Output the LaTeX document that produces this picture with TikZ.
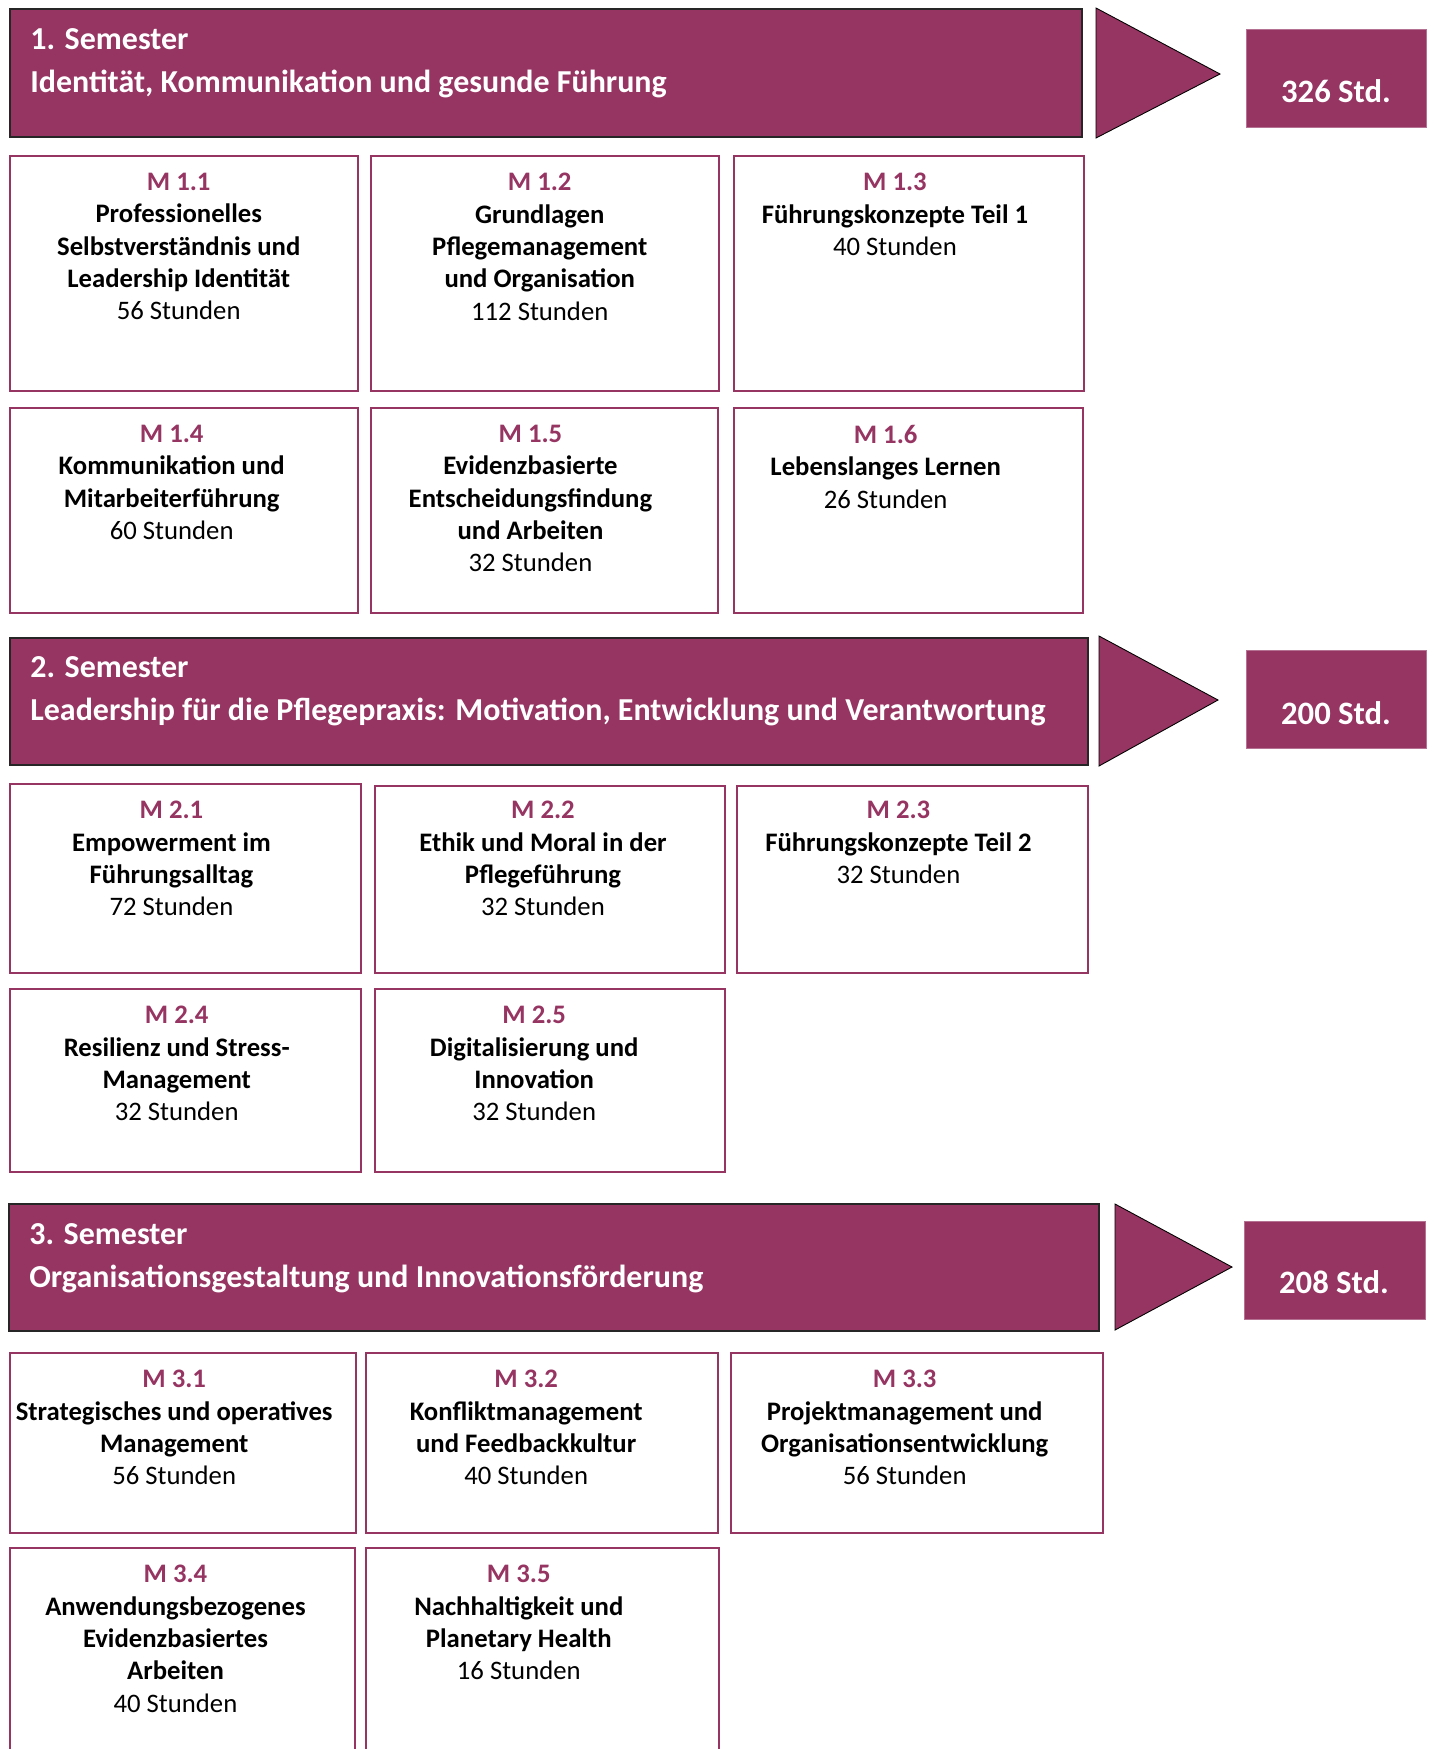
\documentclass[tikz,border=0pt]{standalone}
\usepackage{fontspec}
\setmainfont{Carlito}
\usetikzlibrary{positioning, fit}
\definecolor{semlila}{HTML}{963462}

\begin{document}
\begin{tikzpicture}[x=0.02cm, y=-0.02cm,
    banner/.style={fill=semlila, draw=black!85, line width=0.6pt, inner sep=0pt},
    pfeil/.style={fill=semlila, draw=black, line width=0.5pt},
    summe/.style={fill=semlila, draw=semlila!70, line width=0.5pt, inner sep=0pt},
    summetext/.style={text=white, font=\bfseries\fontsize{18.6}{22}\selectfont, inner sep=0pt},
    semtext/.style={text=white, anchor=north west, align=left, inner sep=0pt,
        font=\bfseries\fontsize{18.2}{24.4}\selectfont},
    modbox/.style={draw=semlila, line width=0.8pt, inner sep=0pt},
    modtext/.style={align=center, inner sep=0pt, font=\fontsize{15.2}{18.4}\selectfont},
    mnr/.style={text=semlila, font=\bfseries}]
    \useasboundingbox (0,0) rectangle (1434,1749);

    % Semester 1
    \node[banner, fit={(10,9) (1082,137)}] (sem1) {};
    \node[semtext] (sem1t) at (30,28) {1. Semester\\Identität, Kommunikation und gesunde Führung};
    \filldraw[pfeil] (1096,8) -- (1220,74) -- (1096,138) -- cycle;
    \node[summe, fit={(1246,29) (1426,127)}] (sum1) {};
    \node[summetext] at (1336,91) {326 Std.};

    \node[modbox, fit={(10,156) (358,391)}] (m11) {};
    \node[modbox, fit={(371,156) (719,391)}] (m12) {};
    \node[modbox, fit={(734,156) (1084,391)}] (m13) {};
    \node[modbox, fit={(10,408) (358,613)}] (m14) {};
    \node[modbox, fit={(371,408) (718,613)}] (m15) {};
    \node[modbox, fit={(734,408) (1083,613)}] (m16) {};

    \node[modtext, below=10pt of m11.north, xshift=-3pt] (t11) {{\bfseries\color{semlila}M 1.1}\\\textbf{Professionelles}\\\textbf{Selbstverständnis und}\\\textbf{Leadership Identität}\\56 Stunden};
    \node[modtext, below=10pt of m12.north, xshift=-3pt] (t12) {{\bfseries\color{semlila}M 1.2}\\\textbf{Grundlagen}\\\textbf{Pflegemanagement}\\\textbf{und Organisation}\\112 Stunden};
    \node[modtext, below=10pt of m13.north, xshift=-8pt] (t13) {{\bfseries\color{semlila}M 1.3}\\\textbf{Führungskonzepte Teil 1}\\40 Stunden};
    \node[modtext, below=10pt of m14.north, xshift=-7pt] (t14) {{\bfseries\color{semlila}M 1.4}\\\textbf{Kommunikation und}\\\textbf{Mitarbeiterführung}\\60 Stunden};
    \node[modtext, below=10pt of m15.north, xshift=-8pt] (t15) {{\bfseries\color{semlila}M 1.5}\\\textbf{Evidenzbasierte}\\\textbf{Entscheidungsfindung}\\\textbf{und Arbeiten}\\32 Stunden};
    \node[modtext, below=10pt of m16.north, xshift=-13pt] (t16) {{\bfseries\color{semlila}M 1.6}\\\textbf{Lebenslanges Lernen}\\26 Stunden};

    % Semester 2
    \node[banner, fit={(10,638) (1088,765)}] (sem2) {};
    \node[semtext] (sem2t) at (30,656) {2. Semester\\Leadership für die Pflegepraxis: Motivation, Entwicklung und Verantwortung};
    \filldraw[pfeil] (1099,636) -- (1218,700) -- (1099,766) -- cycle;
    \node[summe, fit={(1246,650) (1426,748)}] (sum2) {};
    \node[summetext] at (1336,713) {200 Std.};

    \node[modbox, fit={(10,784) (361,973)}] (m21) {};
    \node[modbox, fit={(375,786) (725,973)}] (m22) {};
    \node[modbox, fit={(737,786) (1088,973)}] (m23) {};
    \node[modbox, fit={(10,989) (361,1172)}] (m24) {};
    \node[modbox, fit={(375,989) (725,1172)}] (m25) {};

    \node[modtext, below=10pt of m21.north, xshift=-8pt] (t21) {{\bfseries\color{semlila}M 2.1}\\\textbf{Empowerment im}\\\textbf{Führungsalltag}\\72 Stunden};
    \node[modtext, below=9pt of m22.north, xshift=-4pt] (t22) {{\bfseries\color{semlila}M 2.2}\\\textbf{Ethik und Moral in der}\\\textbf{Pflegeführung}\\32 Stunden};
    \node[modtext, below=9pt of m23.north, xshift=-8pt] (t23) {{\bfseries\color{semlila}M 2.3}\\\textbf{Führungskonzepte Teil 2}\\32 Stunden};
    \node[modtext, below=10pt of m24.north, xshift=-5pt] (t24) {{\bfseries\color{semlila}M 2.4}\\\textbf{Resilienz und Stress-}\\\textbf{Management}\\32 Stunden};
    \node[modtext, below=10pt of m25.north, xshift=-9pt] (t25) {{\bfseries\color{semlila}M 2.5}\\\textbf{Digitalisierung und}\\\textbf{Innovation}\\32 Stunden};

    % Semester 3
    \node[banner, fit={(9,1204) (1099,1331)}] (sem3) {};
    \node[semtext] (sem3t) at (29,1223) {3. Semester\\Organisationsgestaltung und Innovationsförderung};
    \filldraw[pfeil] (1115,1204) -- (1232,1267) -- (1115,1330) -- cycle;
    \node[summe, fit={(1244,1221) (1425,1319)}] (sum3) {};
    \node[summetext] at (1334,1282) {208 Std.};

    \node[modbox, fit={(10,1353) (356,1533)}] (m31) {};
    \node[modbox, fit={(366,1353) (718,1533)}] (m32) {};
    \node[modbox, fit={(731,1353) (1103,1533)}] (m33) {};
    \node[modbox, fit={(10,1548) (355,1780)}] (m34) {};
    \node[modbox, fit={(366,1548) (719,1780)}] (m35) {};

    \node[modtext, below=10pt of m31.north, xshift=-5pt] (t31) {{\bfseries\color{semlila}M 3.1}\\\textbf{Strategisches und operatives}\\\textbf{Management}\\56 Stunden};
    \node[modtext, below=10pt of m32.north, xshift=-9pt] (t32) {{\bfseries\color{semlila}M 3.2}\\\textbf{Konfliktmanagement}\\\textbf{und Feedbackkultur}\\40 Stunden};
    \node[modtext, below=10pt of m33.north, xshift=-7pt] (t33) {{\bfseries\color{semlila}M 3.3}\\\textbf{Projektmanagement und}\\\textbf{Organisationsentwicklung}\\56 Stunden};
    \node[modtext, below=10pt of m34.north, xshift=-4pt] (t34) {{\bfseries\color{semlila}M 3.4}\\\textbf{Anwendungsbezogenes}\\\textbf{Evidenzbasiertes}\\\textbf{Arbeiten}\\40 Stunden};
    \node[modtext, below=10pt of m35.north, xshift=-13.5pt] (t35) {{\bfseries\color{semlila}M 3.5}\\\textbf{Nachhaltigkeit und}\\\textbf{Planetary Health}\\16 Stunden};
\end{tikzpicture}
\end{document}
